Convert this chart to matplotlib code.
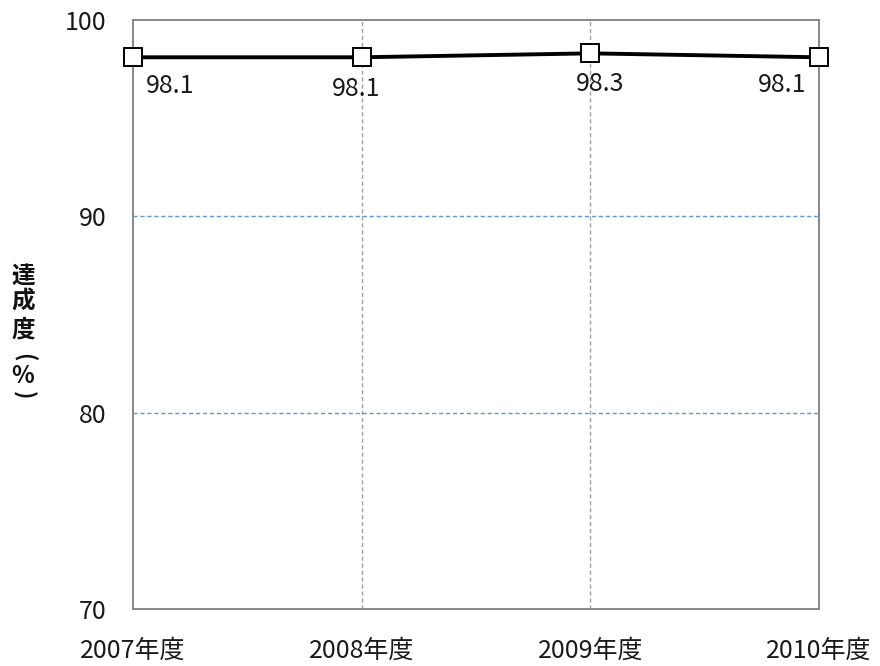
import matplotlib
matplotlib.use("Agg")
import matplotlib.pyplot as plt

plt.rcParams['font.family'] = ['Noto Sans CJK JP', 'DejaVu Sans']

years = ["2007年度", "2008年度", "2009年度", "2010年度"]
achievement = [98.1, 98.1, 98.3, 98.1]
y_ticks = [70, 80, 90, 100]
y_label_chars = ["達", "成", "度", "(", "%", ")"]

# label placement (offset in points, horizontal alignment)
label_offsets = [((9, -21), 'left'), ((-4, -23), 'center'),
                 ((7, -22), 'center'), ((-9, -20), 'right')]

fig = plt.figure(figsize=(8.8, 6.66), dpi=100)
ax = fig.add_axes([0.1511, 0.0856, 0.7795, 0.8844])

x = list(range(len(years)))
ax.plot(x, achievement, color='black', linewidth=2.8, marker='s',
        markersize=13.5, markerfacecolor='white', markeredgecolor='black',
        markeredgewidth=1.4, zorder=5, clip_on=False)

for xi, v, ((dx, dy), ha) in zip(x, achievement, label_offsets):
    ax.annotate(f"{v:.1f}", (xi, v), xytext=(dx, dy), textcoords='offset points',
                ha=ha, va='center', fontsize=18, color='#1a1a1a')

ax.set_xlim(0, len(years) - 1)
ax.set_ylim(70, 100)
ax.set_xticks(x)
ax.set_xticklabels(years)
ax.set_yticks(y_ticks)

ax.tick_params(axis='both', length=0, labelsize=18, colors='#1a1a1a')
ax.tick_params(axis='y', pad=19)
ax.tick_params(axis='x', pad=21)

for yv in [80, 90]:
    ax.axhline(yv, color='#5B9BD5', linestyle=(0, (3, 2)), linewidth=1.0, zorder=1)
for xv in x[1:-1]:
    ax.axvline(xv, color='#A0A0A0', linestyle=(0, (3, 2)), linewidth=1.0, zorder=1)

for s in ax.spines.values():
    s.set_color('#7F7F7F')
    s.set_linewidth(1.3)

# vertical axis title, one character per line; brackets turned for vertical writing
char_y_px = [276, 302, 329, 357, 376, 395]
for ch, ypx in zip(y_label_chars, char_y_px):
    rot = -90 if ch in "()" else 0
    fs = 16 if ch in "()" else 17
    fig.text(23 / 880, 1 - ypx / 666, ch, ha='center', va='center',
             fontsize=fs, fontweight='bold', rotation=rot, color='#111111')

fig.savefig("out.png", dpi=100)
